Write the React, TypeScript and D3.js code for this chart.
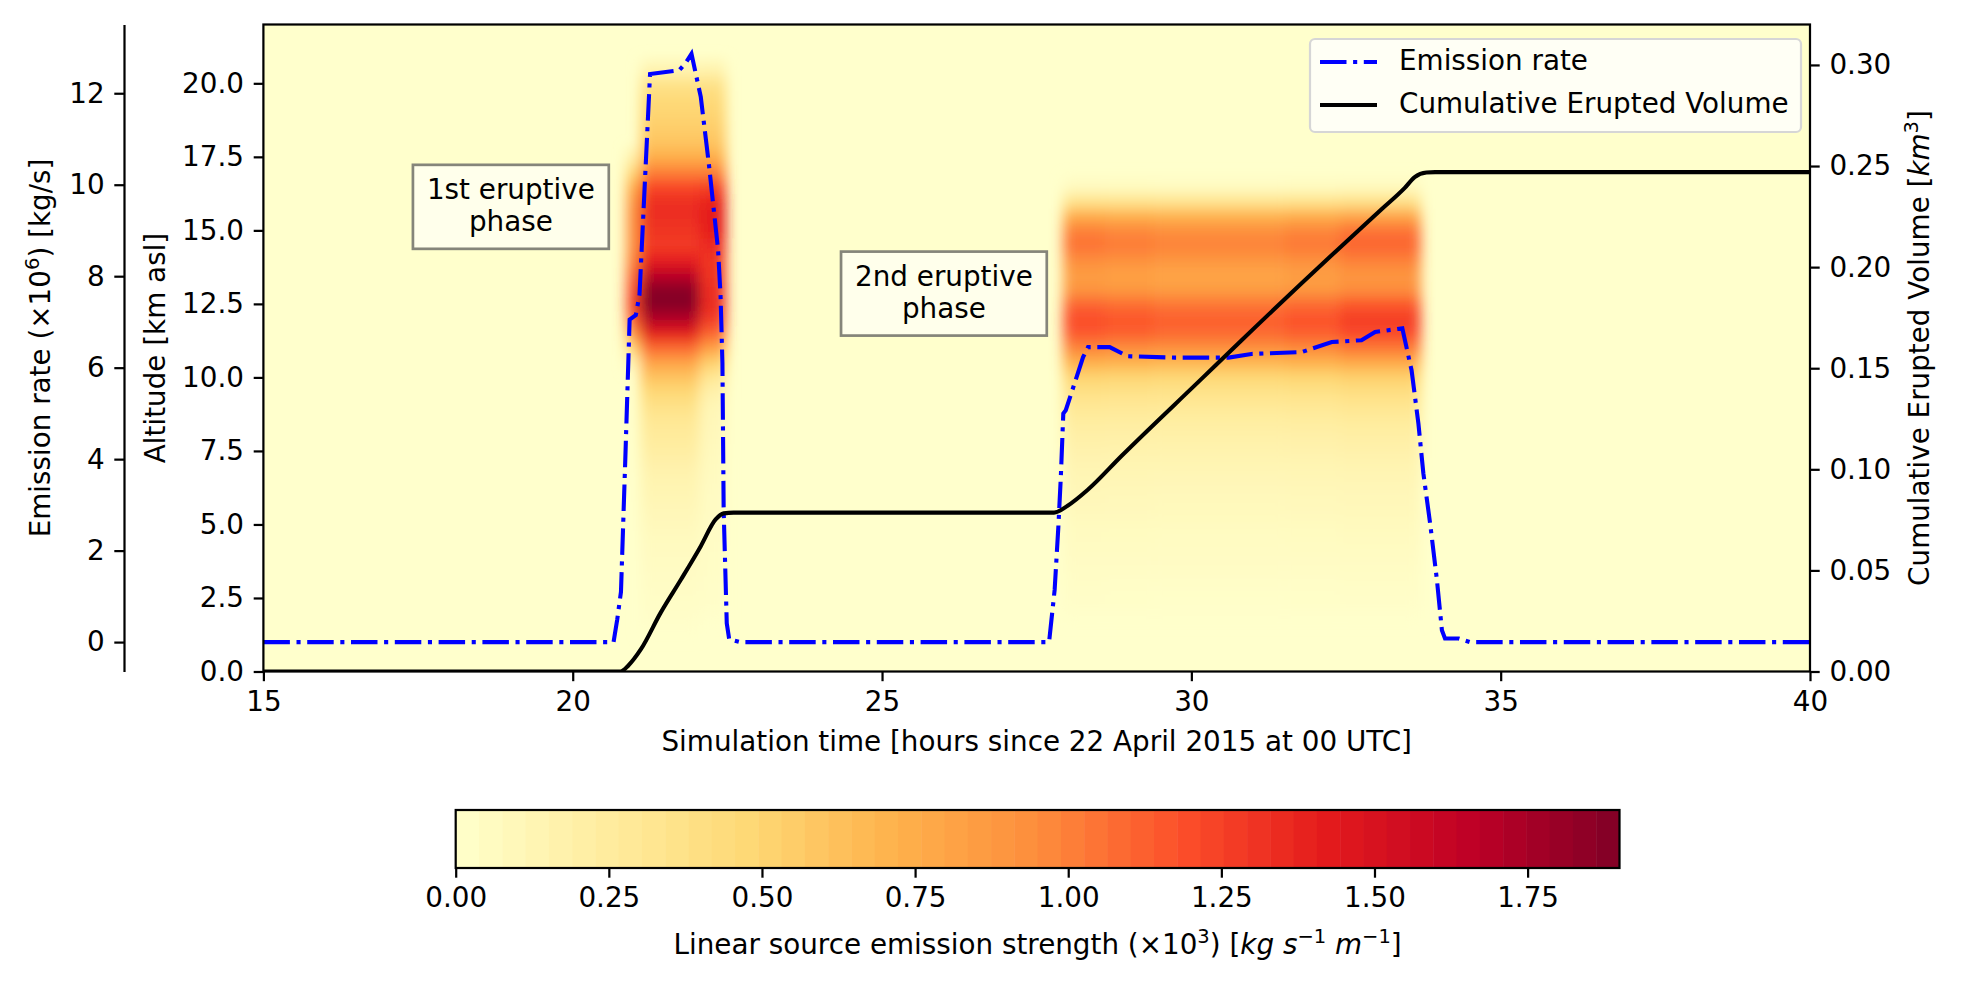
import { useEffect, useRef } from 'react'
import * as d3 from 'd3'

const WIDTH = 1961
const HEIGHT = 985

// axis ticks
const timeTicks = [15, 20, 25, 30, 35, 40]
const altitudeTicks = [0, 2.5, 5, 7.5, 10, 12.5, 15, 17.5, 20]
const emissionTicks = [0, 2, 4, 6, 8, 10, 12]
const volumeTicks = [0, 0.05, 0.1, 0.15, 0.2, 0.25, 0.3]
const colorbarTicks = [0, 0.25, 0.5, 0.75, 1, 1.25, 1.5, 1.75]

// matplotlib YlOrRd
const ylOrRd = ['#ffffcc', '#ffeda0', '#fed976', '#feb24c', '#fd8d3c', '#fc4e2a', '#e31a1c', '#bd0026', '#800026']

// emission rate (x10^6 kg/s)
const emissionTime = [15, 20.66, 20.72, 20.78, 20.85, 20.92, 21.02, 21.08, 21.25, 21.72, 21.83, 21.92, 22.07, 22.2, 22.35, 22.39, 22.42, 22.44, 22.49, 22.53, 22.7, 27.7, 27.79, 27.85, 27.89, 27.93, 27.97, 28.25, 28.33, 28.68, 28.97, 29.73, 30.6, 30.97, 31.78, 32.27, 32.75, 32.97, 33.41, 33.56, 33.67, 33.75, 33.86, 33.97, 34.05, 34.1, 34.32, 34.5, 40]
const emissionRate = [0, 0, 0.5, 1.1, 4.0, 7.05, 7.15, 7.6, 12.42, 12.5, 12.67, 12.86, 11.92, 10.46, 8.57, 7.55, 6.09, 2.88, 0.41, 0.06, 0, 0, 1.14, 2.52, 3.61, 5.0, 5.07, 6.23, 6.45, 6.45, 6.25, 6.22, 6.22, 6.3, 6.34, 6.56, 6.6, 6.78, 6.86, 5.94, 4.78, 3.69, 2.59, 1.35, 0.26, 0.08, 0.08, 0, 0]

// cumulative erupted volume (km3)
const volumeTime = [15, 20.77, 20.9, 21.1, 21.42, 21.75, 22.07, 22.31, 22.44, 22.6, 27.78, 28.0, 28.33, 28.87, 30.16, 30.8, 32.43, 33.07, 33.45, 33.61, 33.8, 33.94, 40]
const volumeKm3 = [0, 0, 0.003, 0.0109, 0.029, 0.0455, 0.062, 0.0752, 0.0782, 0.0786, 0.0786, 0.082, 0.09, 0.1066, 0.1446, 0.1635, 0.2105, 0.2285, 0.2392, 0.2445, 0.2468, 0.247, 0.247]

// linear source emission strength (x10^3), vertical profiles
const heatAltitudes = [0, 0.5, 1, 1.5, 2, 2.5, 3, 3.5, 4, 4.5, 5, 5.5, 6, 6.5, 7, 7.5, 8, 8.5, 9, 9.5, 10, 10.5, 11, 11.5, 12, 12.5, 13, 13.5, 14, 14.5, 15, 15.5, 16, 16.5, 17, 17.5, 18, 18.5, 19, 19.5, 20, 20.5, 21, 21.5, 22]
const plumeEarly = [0, 0, 0, 0, 0, 0, 0, 0, 0, 0, 0, 0, 0, 0, 0, 0, 0, 0, 0, 0, 0, 0.15, 0.5, 0.9, 1.15, 1.25, 1.2, 1.1, 1.0, 0.95, 0.95, 0.95, 0.9, 0.75, 0.5, 0.2, 0, 0, 0, 0, 0, 0, 0, 0, 0]
const plumeCore = [0, 0, 0, 0.01, 0.02, 0.03, 0.04, 0.05, 0.06, 0.07, 0.09, 0.11, 0.13, 0.15, 0.18, 0.22, 0.26, 0.3, 0.37, 0.47, 0.6, 0.8, 1.08, 1.42, 1.7, 1.88, 1.86, 1.66, 1.4, 1.28, 1.3, 1.34, 1.33, 1.22, 1.0, 0.74, 0.6, 0.54, 0.5, 0.46, 0.36, 0.14, 0, 0, 0]
const plumeLate = [0, 0, 0, 0, 0.01, 0.02, 0.02, 0.03, 0.03, 0.04, 0.04, 0.05, 0.05, 0.06, 0.07, 0.08, 0.09, 0.1, 0.12, 0.18, 0.3, 0.52, 0.82, 1.1, 1.28, 1.35, 1.33, 1.3, 1.3, 1.35, 1.4, 1.42, 1.38, 1.25, 1.0, 0.74, 0.6, 0.54, 0.5, 0.46, 0.37, 0.15, 0, 0, 0]
const plumeSecond = [0, 0, 0, 0, 0.01, 0.02, 0.03, 0.04, 0.05, 0.06, 0.07, 0.09, 0.1, 0.12, 0.14, 0.17, 0.2, 0.24, 0.3, 0.38, 0.5, 0.72, 0.98, 1.15, 1.2, 1.1, 0.9, 0.85, 0.95, 1.05, 1.0, 0.75, 0.35, 0.06, 0, 0, 0, 0, 0, 0, 0, 0, 0, 0, 0]

// time segments of the heat field
const heatSegStart = [20.87, 21.1, 22.05, 27.93, 28.6, 29.4, 31.5, 32.4]
const heatSegEnd = [21.1, 22.05, 22.47, 28.6, 29.4, 31.5, 32.4, 33.7]
const heatSegProfile = ['early', 'core', 'late', 'second', 'second', 'second', 'second', 'second']
const heatSegWeight = [1, 1, 1, 1, 0.97, 0.94, 0.98, 1.05]

const FONT = 'DejaVu Sans, sans-serif'
const FS = 27.8
const SUP = 19.5
const LW = 2.22
const TICK = 9.7

const App = () => {
  const svgRef = useRef<SVGSVGElement>(null)

  useEffect(() => {
    if (!svgRef.current) return
    const svg = d3.select(svgRef.current)
    svg.selectAll('*').remove()

    const plot = { left: 263.4, right: 1810, top: 24.5, bottom: 671.5 }
    const cbar = { left: 455.7, right: 1619.5, top: 810, bottom: 868 }
    const emissionSpineX = 124

    const x = d3.scaleLinear().domain([15, 40]).range([plot.left, plot.right])
    const yAlt = d3.scaleLinear().domain([0, 22]).range([plot.bottom, plot.top])
    const yEm = d3.scaleLinear().domain([-0.643, 13.503]).range([plot.bottom, plot.top])
    const yVol = d3.scaleLinear().domain([0, 0.32]).range([plot.bottom, plot.top])
    const vmax = 1.9
    const cbX = d3.scaleLinear().domain([0, vmax]).range([cbar.left, cbar.right])
    const color = d3
      .scaleLinear<string>()
      .domain(ylOrRd.map((_, i) => (i / 8) * vmax))
      .range(ylOrRd)
      .interpolate(d3.interpolateRgb)
      .clamp(true)

    const defs = svg.append('defs')
    defs
      .append('clipPath')
      .attr('id', 'plotClip')
      .append('rect')
      .attr('x', plot.left)
      .attr('y', plot.top)
      .attr('width', plot.right - plot.left)
      .attr('height', plot.bottom - plot.top)
    defs
      .append('filter')
      .attr('id', 'heatBlur')
      .attr('filterUnits', 'userSpaceOnUse')
      .attr('x', plot.left - 60)
      .attr('y', plot.top - 60)
      .attr('width', plot.right - plot.left + 120)
      .attr('height', plot.bottom - plot.top + 120)
      .append('feGaussianBlur')
      .attr('stdDeviation', '6.5 7')

    svg.append('rect').attr('width', WIDTH).attr('height', HEIGHT).attr('fill', '#fff')

    // heat field background
    svg
      .append('rect')
      .attr('x', plot.left)
      .attr('y', plot.top)
      .attr('width', plot.right - plot.left)
      .attr('height', plot.bottom - plot.top)
      .attr('fill', color(0))

    const profiles: Record<string, number[]> = {
      early: plumeEarly,
      core: plumeCore,
      late: plumeLate,
      second: plumeSecond,
    }

    const heat = svg
      .append('g')
      .attr('clip-path', 'url(#plotClip)')
      .append('g')
      .attr('filter', 'url(#heatBlur)')

    heatSegStart.forEach((t0, s) => {
      const prof = profiles[heatSegProfile[s]]
      heatAltitudes.forEach((z, i) => {
        const v = prof[i] * heatSegWeight[s]
        if (v <= 0) return
        const yTop = yAlt(z + 0.25)
        const yBot = yAlt(z - 0.25)
        heat
          .append('rect')
          .attr('x', x(t0))
          .attr('y', yTop - 0.5)
          .attr('width', x(heatSegEnd[s]) - x(t0) + 0.5)
          .attr('height', yBot - yTop + 1)
          .attr('fill', color(v))
      })
    })

    // emission rate line
    const emLine = d3
      .line<number>()
      .x((_, i) => x(emissionTime[i]))
      .y((d) => yEm(d))
    svg
      .append('path')
      .attr('d', emLine(emissionRate))
      .attr('fill', 'none')
      .attr('stroke', '#0000ff')
      .attr('stroke-width', 4.1)
      .attr('stroke-dasharray', '26.5 6.6 4.1 6.6')
      .attr('clip-path', 'url(#plotClip)')

    // cumulative volume line
    const volLine = d3
      .line<number>()
      .x((_, i) => x(volumeTime[i]))
      .y((d) => yVol(d))
      .curve(d3.curveMonotoneX)
    svg
      .append('path')
      .attr('d', volLine(volumeKm3))
      .attr('fill', 'none')
      .attr('stroke', '#000')
      .attr('stroke-width', 4.1)
      .attr('clip-path', 'url(#plotClip)')

    // annotation boxes
    const notes = [
      { t: 19.0, z: 15.8, lines: ['1st eruptive', 'phase'] },
      { t: 26.0, z: 12.85, lines: ['2nd eruptive', 'phase'] },
    ]
    notes.forEach((n) => {
      const cx = x(n.t)
      const cy = yAlt(n.z)
      const g = svg.append('g')
      const rect = g.append('rect')
      const txt = g
        .append('text')
        .attr('text-anchor', 'middle')
        .style('font-family', FONT)
        .style('font-size', `${FS}px`)
        .style('fill', '#000')
      txt.append('tspan').attr('x', cx).attr('y', cy - 7.7).text(n.lines[0])
      txt.append('tspan').attr('x', cx).attr('y', cy + 24.5).text(n.lines[1])
      const w = (txt.node() as SVGTextElement).getBBox().width + 28
      rect
        .attr('x', cx - w / 2)
        .attr('y', cy - 42)
        .attr('width', w)
        .attr('height', 84)
        .attr('fill', '#fffff0')
        .attr('fill-opacity', 0.85)
        .attr('stroke', '#85857a')
        .attr('stroke-width', 2.7)
    })

    // frame
    svg
      .append('rect')
      .attr('x', plot.left)
      .attr('y', plot.top)
      .attr('width', plot.right - plot.left)
      .attr('height', plot.bottom - plot.top)
      .attr('fill', 'none')
      .attr('stroke', '#000')
      .attr('stroke-width', LW)

    const styleAxis = (g: d3.Selection<SVGGElement, unknown, null, undefined>) => {
      g.attr('font-family', FONT).attr('font-size', FS)
      g.selectAll('line').attr('stroke', '#000').attr('stroke-width', LW)
      g.selectAll('path.domain').attr('stroke', '#000').attr('stroke-width', LW)
      g.selectAll('text').attr('fill', '#000')
    }

    // x axis
    svg
      .append('g')
      .attr('transform', `translate(0,${plot.bottom})`)
      .call(
        d3
          .axisBottom(x)
          .tickValues(timeTicks)
          .tickSize(TICK)
          .tickSizeOuter(0)
          .tickPadding(TICK)
          .tickFormat(d3.format('d'))
      )
      .call(styleAxis)
      .call((g) => g.select('.domain').remove())

    // altitude axis
    svg
      .append('g')
      .attr('transform', `translate(${plot.left},0)`)
      .call(
        d3
          .axisLeft(yAlt)
          .tickValues(altitudeTicks)
          .tickSize(TICK)
          .tickSizeOuter(0)
          .tickPadding(TICK)
          .tickFormat(d3.format('.1f'))
      )
      .call(styleAxis)
      .call((g) => g.select('.domain').remove())

    // volume axis
    svg
      .append('g')
      .attr('transform', `translate(${plot.right},0)`)
      .call(
        d3
          .axisRight(yVol)
          .tickValues(volumeTicks)
          .tickSize(TICK)
          .tickSizeOuter(0)
          .tickPadding(TICK)
          .tickFormat(d3.format('.2f'))
      )
      .call(styleAxis)
      .call((g) => g.select('.domain').remove())

    // emission axis (offset spine)
    svg
      .append('g')
      .attr('transform', `translate(${emissionSpineX},0)`)
      .call(
        d3
          .axisLeft(yEm)
          .tickValues(emissionTicks)
          .tickSize(TICK)
          .tickSizeOuter(0)
          .tickPadding(TICK)
          .tickFormat(d3.format('d'))
      )
      .call(styleAxis)

    // axis labels
    const label = (sel: d3.Selection<SVGTextElement, unknown, null, undefined>) =>
      sel
        .attr('text-anchor', 'middle')
        .style('font-family', FONT)
        .style('font-size', `${FS}px`)
        .style('fill', '#000')

    const midY = (plot.top + plot.bottom) / 2
    const midX = (plot.left + plot.right) / 2

    svg
      .append('text')
      .attr('transform', `translate(165,${midY}) rotate(-90)`)
      .call(label)
      .text('Altitude [km asl]')

    const emLab = svg
      .append('text')
      .attr('transform', `translate(50,${midY}) rotate(-90)`)
      .call(label)
    emLab.append('tspan').text('Emission rate (×10')
    emLab.append('tspan').attr('dy', -11).style('font-size', `${SUP}px`).text('6')
    emLab.append('tspan').attr('dy', 11).text(') [kg/s]')

    const volLab = svg
      .append('text')
      .attr('transform', `translate(1929,${midY}) rotate(-90)`)
      .call(label)
    volLab.append('tspan').text('Cumulative Erupted Volume [')
    volLab.append('tspan').style('font-style', 'italic').text('km')
    volLab.append('tspan').attr('dy', -11).style('font-size', `${SUP}px`).text('3')
    volLab.append('tspan').attr('dy', 11).text(']')

    svg
      .append('text')
      .attr('x', midX)
      .attr('y', 751)
      .call(label)
      .text('Simulation time [hours since 22 April 2015 at 00 UTC]')

    // legend
    const lg = svg.append('g')
    lg.append('rect')
      .attr('x', 1310)
      .attr('y', 39)
      .attr('width', 491)
      .attr('height', 93)
      .attr('rx', 5)
      .attr('fill', '#fff')
      .attr('fill-opacity', 0.8)
      .attr('stroke', '#d6d6d6')
      .attr('stroke-width', 2.2)
    const legendItems = [
      { label: 'Emission rate', color: '#0000ff', dash: '26.5 6.6 4.1 6.6', y: 62 },
      { label: 'Cumulative Erupted Volume', color: '#000', dash: null, y: 105 },
    ]
    legendItems.forEach((item) => {
      lg.append('line')
        .attr('x1', 1320)
        .attr('x2', 1377)
        .attr('y1', item.y)
        .attr('y2', item.y)
        .attr('stroke', item.color)
        .attr('stroke-width', 4.1)
        .attr('stroke-dasharray', item.dash)
      lg.append('text')
        .attr('x', 1399)
        .attr('y', item.y + 8)
        .style('font-family', FONT)
        .style('font-size', `${FS}px`)
        .style('fill', '#000')
        .text(item.label)
    })

    // colorbar
    const nLevels = 50
    const levels = d3.range(nLevels + 1).map((i) => (i * vmax) / nLevels)
    const cb = svg.append('g')
    cb.selectAll('rect.band')
      .data(levels.slice(0, -1))
      .join('rect')
      .attr('class', 'band')
      .attr('x', (d) => cbX(d))
      .attr('y', cbar.top)
      .attr('width', (cbX(vmax) - cbX(0)) / nLevels + 0.5)
      .attr('height', cbar.bottom - cbar.top)
      .attr('fill', (d) => color(d + vmax / nLevels / 2))
    cb.append('rect')
      .attr('x', cbar.left)
      .attr('y', cbar.top)
      .attr('width', cbar.right - cbar.left)
      .attr('height', cbar.bottom - cbar.top)
      .attr('fill', 'none')
      .attr('stroke', '#000')
      .attr('stroke-width', LW)
    svg
      .append('g')
      .attr('transform', `translate(0,${cbar.bottom})`)
      .call(
        d3
          .axisBottom(cbX)
          .tickValues(colorbarTicks)
          .tickSize(TICK)
          .tickSizeOuter(0)
          .tickPadding(TICK)
          .tickFormat(d3.format('.2f'))
      )
      .call(styleAxis)
      .call((g) => g.select('.domain').remove())

    const cbLab = svg
      .append('text')
      .attr('x', (cbar.left + cbar.right) / 2)
      .attr('y', 954)
      .call(label)
    cbLab.append('tspan').text('Linear source emission strength (×10')
    cbLab.append('tspan').attr('dy', -11).style('font-size', `${SUP}px`).text('3')
    cbLab.append('tspan').attr('dy', 11).text(') [')
    cbLab.append('tspan').style('font-style', 'italic').text('kg s')
    cbLab.append('tspan').attr('dy', -11).style('font-size', `${SUP}px`).text('−1')
    cbLab.append('tspan').attr('dy', 11).style('font-style', 'italic').text(' m')
    cbLab.append('tspan').attr('dy', -11).style('font-size', `${SUP}px`).text('−1')
    cbLab.append('tspan').attr('dy', 11).text(']')
  }, [])

  return (
    <svg
      ref={svgRef}
      width={WIDTH}
      height={HEIGHT}
      style={{ position: 'absolute', left: 0, top: 0 }}
    />
  )
}

export default App
